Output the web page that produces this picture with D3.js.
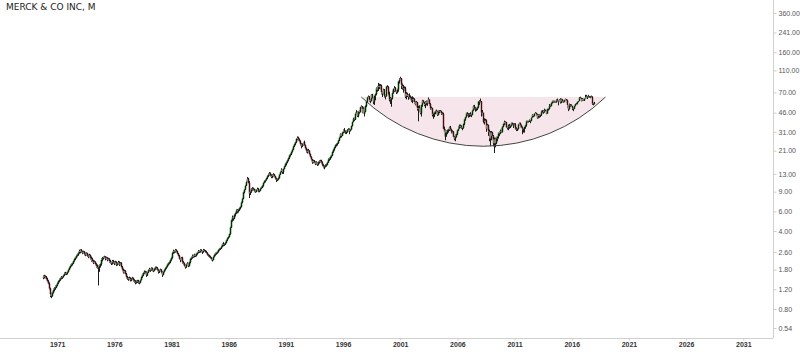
<!DOCTYPE html>
<html>
<head>
<meta charset="utf-8">
<script src="https://cdn.jsdelivr.net/npm/d3@7.9.0/dist/d3.min.js"></script>
<style>
  html, body { margin: 0; padding: 0; background: #fff; }
  #chart { width: 800px; height: 354px; }
</style>
</head>
<body>
<div id="chart"></div>
<script>
// Monthly bars, Oct 1969 .. Dec 2017 (open = previous month's close)
const title = "MERCK & CO INC, M";
const startYear = 1969, startMonth = 9;
const firstOpen = 1.56;

const close1969_79 = [1.52,1.58,1.55,
  1.48,1.42,1.35,1.22,1.08,1.05,1.12,1.18,1.22,1.25,1.30,1.36,
  1.42,1.46,1.50,1.55,1.52,1.55,1.60,1.65,1.68,1.66,1.72,1.80,
  1.88,1.95,2.00,2.05,2.15,2.25,2.30,2.40,2.45,2.55,2.65,2.60,
  2.68,2.62,2.55,2.60,2.50,2.45,2.52,2.40,2.35,2.42,2.30,2.25,
  2.15,2.08,2.12,2.02,1.95,1.90,1.88,1.95,2.02,2.15,2.20,2.28,
  2.30,2.35,2.25,2.30,2.20,2.25,2.15,2.10,2.05,2.15,2.10,2.05,
  2.10,2.00,2.05,2.10,2.00,2.05,2.00,1.90,1.80,1.70,1.75,1.65,
  1.55,1.50,1.48,1.52,1.45,1.48,1.50,1.45,1.42,1.38,1.40,1.42,
  1.40,1.38,1.45,1.55,1.62,1.60,1.68,1.72,1.70,1.62,1.70,1.78,
  1.82,1.78,1.85,1.80,1.76,1.84,1.88,1.86,1.80,1.72,1.76,1.80];
const high1969_79 = [1.60,1.62,1.60,
  1.58,1.52,1.45,1.38,1.24,1.12,1.15,1.22,1.26,1.30,1.33,1.40,
  1.45,1.50,1.54,1.58,1.58,1.58,1.63,1.70,1.72,1.72,1.75,1.84,
  1.92,2.00,2.05,2.10,2.20,2.30,2.36,2.45,2.52,2.60,2.72,2.74,
  2.75,2.72,2.66,2.66,2.64,2.56,2.58,2.55,2.46,2.50,2.46,2.36,
  2.30,2.20,2.18,2.14,2.06,2.00,1.96,2.02,2.08,2.20,2.28,2.34,
  2.36,2.40,2.38,2.35,2.33,2.30,2.28,2.20,2.14,2.20,2.20,2.14,
  2.16,2.14,2.10,2.16,2.14,2.10,2.10,2.04,1.94,1.84,1.80,1.78,
  1.68,1.58,1.54,1.56,1.54,1.52,1.55,1.53,1.48,1.45,1.44,1.46,
  1.46,1.43,1.48,1.58,1.66,1.66,1.72,1.77,1.76,1.74,1.73,1.82,
  1.87,1.85,1.89,1.88,1.83,1.87,1.92,1.92,1.90,1.82,1.80,1.84];
const low1969_79 = [1.48,1.50,1.50,
  1.44,1.38,1.32,1.18,1.02,1.00,1.03,1.10,1.15,1.19,1.23,1.28,
  1.34,1.39,1.43,1.48,1.48,1.49,1.53,1.58,1.62,1.61,1.63,1.70,
  1.78,1.85,1.92,1.96,2.02,2.12,2.20,2.27,2.36,2.40,2.50,2.52,
  2.55,2.56,2.48,2.50,2.42,2.38,2.40,2.34,2.28,2.32,2.22,2.12,
  2.10,2.02,2.04,1.96,1.88,1.84,1.30,1.72,1.88,1.96,2.08,2.14,
  2.22,2.26,2.18,2.20,2.14,2.16,2.08,2.04,1.98,2.00,2.04,1.98,
  2.00,1.94,1.96,2.00,1.94,1.96,1.94,1.85,1.75,1.66,1.66,1.60,
  1.50,1.46,1.43,1.45,1.41,1.42,1.45,1.41,1.37,1.33,1.35,1.37,
  1.35,1.33,1.36,1.44,1.52,1.55,1.58,1.65,1.64,1.55,1.58,1.68,
  1.74,1.72,1.76,1.74,1.71,1.74,1.80,1.80,1.75,1.66,1.68,1.72];

const close1980s = [
  1.70,1.66,1.62,1.72,1.80,1.86,1.92,2.00,2.05,2.10,2.20,2.30,
  2.55,2.65,2.60,2.70,2.62,2.50,2.40,2.25,2.20,2.30,2.25,2.10,
  2.05,1.95,1.90,2.00,2.05,1.95,2.10,2.25,2.30,2.40,2.35,2.45,
  2.40,2.50,2.55,2.65,2.60,2.70,2.65,2.55,2.60,2.70,2.65,2.60,
  2.55,2.45,2.40,2.35,2.30,2.25,2.20,2.35,2.45,2.50,2.55,2.60,
  2.70,2.75,2.80,2.90,3.05,3.10,3.00,3.05,3.15,3.30,3.45,3.55,
  3.75,4.30,5.00,5.30,5.20,5.60,5.80,6.10,6.00,6.20,6.40,6.60,
  7.20,7.80,8.40,8.90,9.40,10.20,11.00,11.80,10.80,8.70,9.00,9.40,
  9.60,9.40,9.20,9.00,9.30,9.50,9.10,9.20,9.60,9.80,10.20,10.50,
  10.80,11.20,11.40,11.90,12.40,12.80,13.10,12.60,12.20,12.50,12.80,12.40];
const high1980s = [
  1.82,1.74,1.70,1.75,1.83,1.90,1.96,2.04,2.10,2.16,2.25,2.36,
  2.60,2.72,2.70,2.76,2.74,2.66,2.54,2.44,2.30,2.34,2.35,2.28,
  2.15,2.08,2.00,2.04,2.10,2.08,2.14,2.30,2.36,2.46,2.45,2.50,
  2.50,2.55,2.60,2.70,2.70,2.75,2.74,2.68,2.66,2.76,2.74,2.70,
  2.66,2.58,2.48,2.45,2.40,2.34,2.28,2.40,2.50,2.56,2.60,2.66,
  2.76,2.82,2.85,2.96,3.10,3.18,3.15,3.12,3.22,3.36,3.52,3.62,
  3.82,4.40,5.10,5.50,5.45,5.70,5.95,6.25,6.30,6.35,6.55,6.75,
  7.40,8.00,8.65,9.10,9.60,10.40,11.30,12.20,12.00,11.20,9.40,9.70,
  9.90,9.80,9.60,9.40,9.50,9.80,9.70,9.50,9.80,10.10,10.40,10.70,
  11.00,11.40,11.70,12.10,12.70,13.10,13.50,13.40,12.90,12.90,13.20,13.00];
const low1980s = [
  1.66,1.62,1.55,1.60,1.70,1.77,1.83,1.89,1.96,2.01,2.06,2.16,
  2.26,2.50,2.52,2.56,2.55,2.45,2.35,2.20,2.10,2.16,2.18,2.04,
  1.98,1.90,1.84,1.87,1.96,1.90,1.92,2.05,2.20,2.26,2.30,2.32,
  2.34,2.36,2.45,2.52,2.54,2.56,2.58,2.50,2.50,2.56,2.60,2.54,
  2.48,2.40,2.34,2.30,2.24,2.18,2.13,2.18,2.32,2.40,2.45,2.50,
  2.56,2.66,2.70,2.76,2.86,2.98,2.92,2.94,3.00,3.10,3.25,3.40,
  3.50,3.70,4.25,4.85,4.95,5.10,5.40,5.70,5.75,5.85,6.05,6.25,
  6.50,7.10,7.70,8.30,8.70,9.30,10.10,10.90,10.60,7.90,8.40,8.80,
  9.20,9.20,8.90,8.80,8.90,9.10,8.90,8.90,9.10,9.50,9.70,10.00,
  10.30,10.70,10.90,11.30,11.70,12.20,12.50,12.30,11.90,11.90,12.30,12.00];

const close1990s = [
  11.8,11.4,11.6,12.0,12.8,13.5,14.2,13.8,13.6,14.4,15.2,16.0,
  16.5,17.2,18.0,19.0,19.5,20.5,21.5,23.0,24.0,25.0,26.8,27.5,
  26.5,25.5,24.0,23.0,24.0,24.5,25.0,23.5,22.0,21.0,20.5,21.0,
  19.5,18.5,17.5,16.5,17.0,16.5,16.0,16.5,15.8,16.5,16.8,17.0,
  16.5,15.5,15.0,14.8,15.2,15.5,15.8,16.5,17.5,17.8,18.5,19.0,
  20.5,21.5,22.5,23.5,24.0,24.5,26.0,27.5,29.5,28.5,30.5,31.5,
  32.0,31.0,30.5,31.0,32.0,32.5,31.5,32.5,35.0,38.0,40.5,40.0,
  45.0,46.0,43.0,47.5,46.5,51.5,52.5,46.0,50.0,45.0,47.0,53.0,
  58.0,63.0,64.0,60.0,58.5,67.0,62.5,58.0,65.0,67.5,76.0,74.0,
  80.0,78.0,80.0,70.5,68.0,74.0,68.0,65.0,64.5,79.0,78.0,67.0];
const high1990s = [
  12.5,12.0,11.9,12.3,13.0,13.8,14.6,14.4,14.1,14.7,15.5,16.3,
  16.9,17.6,18.4,19.4,20.0,21.0,22.0,23.4,24.5,25.5,27.2,28.2,
  28.0,27.0,26.0,24.5,24.6,25.2,25.8,25.5,23.8,22.4,21.6,21.8,
  21.2,19.8,18.7,17.7,17.4,17.3,16.8,16.9,16.6,16.8,17.2,17.4,
  17.4,16.8,15.9,15.4,15.6,15.9,16.2,16.8,17.9,18.3,18.9,19.4,
  20.9,21.9,22.9,23.9,24.5,25.1,26.4,28.0,30.0,30.0,31.0,32.5,
  33.4,33.2,31.8,31.9,32.8,33.4,33.2,33.0,35.5,38.5,41.5,42.0,
  46.0,48.5,47.5,47.8,48.5,52.0,53.5,52.8,51.5,51.0,48.5,54.0,
  59.0,63.8,65.5,64.8,61.5,67.5,67.8,63.5,65.8,69.0,77.5,80.0,
  85.0,83.5,83.0,82.0,72.0,75.5,75.0,70.0,67.5,80.0,81.0,79.5];
const low1990s = [
  11.5,11.0,11.2,11.4,11.8,12.7,13.4,13.0,13.0,13.4,14.3,15.0,
  15.5,16.2,16.9,17.7,18.6,19.2,20.2,21.2,22.6,23.5,24.6,26.0,
  25.6,24.8,23.2,22.0,22.6,23.4,24.0,23.0,21.4,20.2,19.8,20.1,
  19.0,18.0,16.9,16.0,16.2,16.1,15.6,15.7,15.3,15.5,16.1,16.4,
  16.0,15.2,14.6,14.3,14.5,14.9,15.1,15.5,16.3,17.0,17.4,18.1,
  18.8,20.1,21.0,22.1,22.9,23.3,24.2,25.6,27.2,27.6,28.3,30.0,
  30.5,30.2,29.6,29.6,30.4,31.4,29.5,31.2,32.3,34.6,37.7,38.8,
  39.5,43.8,42.0,41.8,45.0,46.2,49.5,45.5,45.2,43.5,42.5,46.5,
  51.5,56.8,61.0,57.8,56.0,58.0,60.5,54.8,54.0,59.5,66.0,71.0,
  72.0,75.0,74.0,67.0,63.5,66.5,66.5,63.0,60.5,64.0,74.5,64.0];

const close2000s = [
  60.0,60.5,62.0,69.0,75.0,76.5,71.5,70.0,74.0,87.5,91.0,93.5,
  82.0,80.0,76.0,76.0,72.0,64.0,68.0,65.0,66.5,63.5,62.5,59.0,
  60.0,61.0,57.5,54.5,57.0,50.5,49.5,50.5,45.5,54.0,59.0,56.5,
  55.0,54.0,55.0,58.0,56.0,60.5,55.0,50.5,50.5,44.0,45.0,46.0,
  47.5,47.5,44.0,47.0,47.5,47.5,45.5,45.0,33.0,31.0,28.0,32.0,
  30.5,32.0,32.5,34.0,32.5,31.0,31.0,28.0,27.0,28.0,29.5,32.0,
  33.0,35.0,35.0,34.0,33.5,36.5,40.0,40.5,42.0,45.5,44.5,43.5,
  44.0,44.5,44.0,48.0,52.5,50.0,49.5,50.0,51.5,58.0,58.0,58.0,
  46.0,46.0,38.0,38.0,39.0,37.5,33.0,35.5,31.5,31.0,27.0,30.5,
  28.5,24.5,26.5,24.5,27.0,28.0,30.0,30.0,31.5,31.0,34.5,36.5];
const high2000s = [
  71.0,63.5,63.0,72.5,76.5,79.5,78.0,73.0,75.5,88.5,94.0,96.5,
  94.0,84.0,81.5,79.0,78.5,73.0,70.5,69.5,67.0,68.5,65.5,64.0,
  64.5,63.0,62.0,58.0,58.5,57.5,53.0,53.5,51.5,54.5,60.0,59.5,
  57.5,57.0,58.5,59.0,59.5,63.0,60.5,56.0,52.0,51.0,46.0,47.0,
  48.0,49.0,48.0,48.0,48.5,48.5,48.0,46.5,46.0,34.5,31.5,32.5,
  32.0,32.5,33.0,34.5,35.0,33.0,32.0,31.5,28.5,29.5,30.5,32.5,
  35.0,36.0,36.0,35.5,34.5,37.0,40.5,41.5,42.5,46.0,46.5,45.5,
  45.5,46.5,45.5,49.0,53.5,54.0,51.5,51.0,52.5,58.5,59.5,61.5,
  58.5,48.5,46.0,41.0,40.5,40.0,38.0,36.5,36.0,32.5,31.5,31.5,
  31.0,29.0,27.5,27.5,28.0,28.5,30.5,31.5,32.5,33.5,35.0,37.0];
const low2000s = [
  58.0,55.0,52.0,60.5,68.0,70.5,70.5,67.5,68.5,71.0,84.0,87.5,
  75.0,74.0,69.5,72.0,69.0,62.0,60.5,63.5,60.0,61.5,60.0,57.5,
  56.0,57.5,55.0,53.5,52.0,48.0,38.5,46.5,44.5,42.5,52.0,55.5,
  52.5,50.5,51.5,53.5,53.0,55.5,53.0,49.0,48.5,42.5,40.5,42.0,
  44.5,45.0,43.0,43.5,45.5,46.0,44.0,43.5,32.5,28.5,26.0,27.0,
  28.0,29.5,30.5,31.5,31.5,30.0,29.5,27.5,26.0,25.5,27.5,29.0,
  31.5,33.0,33.5,33.0,32.0,33.0,35.5,39.0,39.5,41.5,43.0,41.5,
  42.0,42.5,42.0,43.5,47.5,49.0,47.0,47.5,48.5,50.5,54.0,56.0,
  42.5,43.0,37.0,36.0,37.5,36.5,31.0,32.5,28.5,25.5,23.0,26.0,
  26.5,23.0,20.0,22.5,24.0,25.5,27.0,28.5,29.5,30.5,30.5,34.0];

const close2010s = [
  38.0,37.0,37.5,34.0,33.5,35.0,34.5,35.0,37.0,36.0,36.0,36.0,
  33.0,33.0,33.0,36.0,37.0,35.5,34.0,32.5,33.0,34.5,35.5,37.5,
  38.5,38.5,38.5,39.5,39.0,41.5,44.0,43.0,45.0,45.5,44.5,41.0,
  44.0,43.0,44.0,47.0,46.5,46.5,48.0,47.5,47.5,45.0,49.5,50.0,
  53.0,53.0,56.5,58.5,57.5,58.0,57.0,60.0,59.0,58.0,60.5,57.0,
  60.5,58.5,57.5,59.5,61.0,57.0,59.0,54.0,49.5,54.5,53.5,53.0,
  50.5,50.0,53.0,55.0,56.0,57.5,58.5,62.5,62.5,58.5,61.0,59.0,
  61.5,62.0,63.5,62.5,64.5,64.0,64.0,64.0,64.0,55.0,55.5,56.0];
const high2010s = [
  39.0,38.5,38.0,38.0,35.0,36.0,36.5,36.0,37.5,37.5,37.0,37.0,
  37.0,34.0,33.5,36.5,37.5,37.5,36.0,34.5,33.5,34.5,36.0,37.5,
  39.0,39.0,39.0,40.0,39.5,42.0,44.5,44.5,45.5,46.5,46.0,45.0,
  44.5,44.5,44.5,48.0,48.5,48.5,50.0,49.0,49.0,48.0,50.0,50.5,
  55.0,55.0,57.0,59.0,59.0,59.0,58.5,60.5,61.5,59.5,61.0,62.0,
  61.5,61.0,59.5,60.0,61.5,61.0,60.0,59.5,54.0,55.5,55.0,54.5,
  53.0,51.5,53.5,55.5,56.5,58.0,59.0,63.5,64.0,62.5,62.0,61.5,
  62.0,66.5,66.5,64.0,65.0,66.5,65.0,65.0,65.5,64.5,56.5,57.5];
const low2010s = [
  35.5,35.5,36.5,33.5,32.5,32.0,33.0,33.5,34.5,35.5,33.5,34.5,
  32.5,31.5,31.5,32.5,35.5,34.0,33.5,29.5,30.5,30.5,33.0,34.5,
  37.0,37.5,37.5,38.0,37.0,38.5,41.5,42.0,42.5,45.0,43.0,40.5,
  41.0,41.5,42.0,43.0,45.5,45.0,46.0,47.0,46.5,44.5,45.0,48.0,
  49.0,51.5,52.5,55.5,56.5,56.5,56.5,56.5,58.0,53.5,57.5,55.5,
  56.0,57.0,56.5,57.0,59.0,56.5,56.5,50.5,47.5,49.0,52.0,52.0,
  48.5,47.5,49.5,52.5,54.5,54.5,57.0,58.5,61.0,58.0,58.5,58.5,
  58.5,61.5,62.0,61.0,62.5,63.0,62.5,62.0,62.5,54.0,53.5,54.5];

// cup drawn over 1997-2018: rim level and bottom of the arc
const cupLeft = 1997.6, cupRight = 2018.95, cupLevel = 63.5, cupLow = 23.0;

const yTicks = [0.54, 0.8, 1.2, 1.8, 2.6, 4, 6, 9, 13, 21, 31, 46, 70, 110, 160, 241, 360];
const xTicks = [1971, 1976, 1981, 1986, 1991, 1996, 2001, 2006, 2011, 2016, 2021, 2026, 2031];

const closes = [].concat(close1969_79, close1980s, close1990s, close2000s, close2010s);
const highs = [].concat(high1969_79, high1980s, high1990s, high2000s, high2010s);
const lows = [].concat(low1969_79, low1980s, low1990s, low2000s, low2010s);

const bars = closes.map((c, i) => {
  const o = i ? closes[i - 1] : firstOpen;
  return {
    t: startYear + (startMonth + i + 0.5) / 12,
    o, c,
    h: Math.max(highs[i], o, c),
    l: Math.min(lows[i], o, c)
  };
});

const W = 800, H = 354;
const plotRight = 773, plotBottom = 338;

const svg = d3.select("#chart").append("svg")
  .attr("width", W).attr("height", H)
  .style("font-family", "'Liberation Sans', Arial, sans-serif");

const x = d3.scaleLinear().domain([1966, 2033.6]).range([0, plotRight]);
const y = d3.scaleLog().domain([0.54, 360]).range([328, 13]);

// Cup shading (circular segment under the rim)
const lx = x(cupLeft), rx = x(cupRight), ry = y(cupLevel);
const a = (rx - lx) / 2, s = y(cupLow) - ry;
const R = (a * a + s * s) / (2 * s);
const arcD = `M${lx},${ry} A${R},${R} 0 0 0 ${rx},${ry}`;

svg.append("path")
  .attr("d", arcD + " Z")
  .attr("fill", "#f6e6ec");

// OHLC bars
const g = svg.append("g");
bars.forEach(d => {
  const bx = Math.round(x(d.t)) + 0.5;
  const up = d.c >= d.o;
  g.append("rect")
    .attr("x", bx - 1.2).attr("width", 2.4)
    .attr("y", y(Math.max(d.o, d.c)))
    .attr("height", Math.max(0.6, y(Math.min(d.o, d.c)) - y(Math.max(d.o, d.c))))
    .attr("fill", up ? "#7fcb7f" : "#e896a2");
  g.append("line")
    .attr("x1", bx).attr("x2", bx)
    .attr("y1", y(d.h)).attr("y2", y(d.l))
    .attr("stroke", "#1c1c1c").attr("stroke-width", 1);
});

svg.append("path")
  .attr("d", arcD)
  .attr("fill", "none")
  .attr("stroke", "#444")
  .attr("stroke-width", 1);

// Axes
svg.append("line")
  .attr("x1", 0).attr("x2", plotRight)
  .attr("y1", plotBottom + 0.5).attr("y2", plotBottom + 0.5)
  .attr("stroke", "#d0d0d0");
svg.append("line")
  .attr("x1", plotRight + 0.5).attr("x2", plotRight + 0.5)
  .attr("y1", 0).attr("y2", plotBottom)
  .attr("stroke", "#d0d0d0");

const yAxis = svg.append("g")
  .attr("transform", `translate(${plotRight + 0.5},0)`)
  .call(d3.axisRight(y).tickValues(yTicks).tickFormat(d3.format(".2f")).tickSize(3).tickPadding(2));
yAxis.select(".domain").remove();
yAxis.selectAll("line").attr("stroke", "#ccc");
yAxis.selectAll("text").attr("fill", "#555").style("font-size", "7px");

const xAxis = svg.append("g")
  .attr("transform", `translate(0,${plotBottom + 0.5})`)
  .call(d3.axisBottom(x).tickValues(xTicks).tickFormat(d => d).tickSize(2).tickPadding(2));
xAxis.select(".domain").remove();
xAxis.selectAll("line").attr("stroke", "#ccc");
xAxis.selectAll("text").attr("fill", "#333").style("font-size", "7px").style("font-weight", "bold");

// Title
svg.append("text")
  .attr("x", 6).attr("y", 10)
  .attr("fill", "#222")
  .style("font-family", "'DejaVu Sans', Verdana, sans-serif")
  .style("font-size", "9px")
  .text(title);
</script>
</body>
</html>
